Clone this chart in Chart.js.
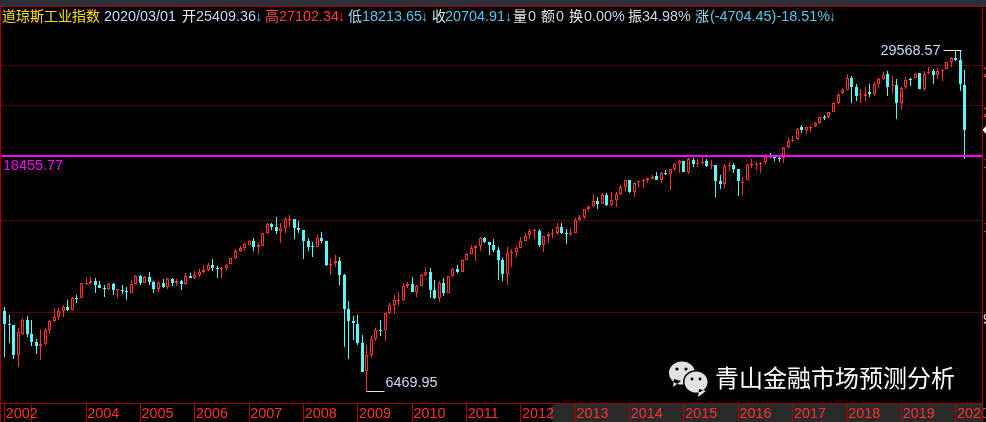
<!DOCTYPE html>
<html>
<head>
<meta charset="utf-8">
<style>
html,body{margin:0;padding:0;background:#000;width:986px;height:422px;overflow:hidden}
#wrap{position:relative;width:986px;height:422px;overflow:hidden}
canvas{position:absolute;left:0;top:0}
.h{position:absolute;top:8px;height:16px;line-height:16px;font-size:14.4px;font-family:"Liberation Sans","Noto Sans CJK SC",sans-serif;white-space:pre}
.h.cjk{font-size:14px}
#wm{position:absolute;left:715px;top:360px;font-size:24px;line-height:34px;color:#fff;font-family:"Noto Sans CJK SC",sans-serif;white-space:pre}
</style>
<script src="https://cdn.jsdelivr.net/npm/chart.js@4/dist/chart.umd.min.js"></script>
</head>
<body>
<div id="wrap">
<canvas id="c" width="986" height="422"></canvas>
<div id="wm">青山金融市场预测分析</div>
</div>
<script>
// Monthly candles, July 2002 to March 2020
const opens = [
9255,8733,8694,7616,8353,8890,8353,8060,7928,7989,
8503,8851,9011,9255,9408,9296,9821,9821,10438,10485,
10579,10378,10254,10209,10438,10186,10163,10105,10041,10453,
10817,10501,10755,10532,10222,10470,10286,10674,10485,10593,
10438,10832,10721,10852,11012,11110,11362,11211,11196,11196,
11412,11723,12093,12257,12439,12645,12329,12384,13104,13641,
13442,13239,13400,13886,13930,13382,13262,12627,12350,12329,
12799,12645,11402,11478,11566,10866,9338,8851,8759,8013,
7082,7606,8169,8516,8491,9173,9506,9720,9720,10332,
10438,10073,10360,10866,11012,10163,9808,10485,10041,10803,
11146,11012,11617,11933,12274,12367,12816,12572,12422,12147,
11617,10914,11986,12024,12257,12645,12971,13221,13221,12422,
12948,13063,13087,13442,13104,13063,13122,13868,14074,14560,
14780,15115,14940,15524,14827,15200,15593,16110,16590,15732,
16428,16545,16622,16695,16897,16622,17124,17070,17400,17826,
18040,17220,18146,17880,17905,18040,17720,17720,16523,16304,
17690,17720,17410,16465,16597,17720,17800,17880,17985,18450,
18415,18310,18285,19205,19812,19900,20995,20743,20960,21090,
21375,21970,21982,22477,23430,24430,24825,26120,25128,24247,
24170,24573,24355,25500,26041,26627,25318,25318,23430,25128,
26075,26157,26710,24905,26746,26950,26545,26950,27265,28130,
28597,28300,25409.36];
const highs = [
9408,9091,8720,8567,8960,9039,8890,8157,8529,8567,
8878,9380,9367,9493,9720,9839,9940,10470,10707,10769,
10707,10579,10392,10470,10470,10209,10392,10286,10626,10866,
10852,10817,11012,10579,10564,10660,10707,10707,10674,10626,
10947,10947,11046,11176,11347,11447,11655,11311,11246,11397,
11739,12185,12367,12516,12701,12816,12533,13122,13684,13684,
14055,13684,14055,14200,13949,13825,13280,12799,12608,13046,
13140,12645,11707,11880,11790,10914,9690,9051,9078,8316,
7953,8290,8604,8890,9187,9604,9940,10091,10501,10546,
10755,10392,10900,11261,11196,10626,10579,10707,10832,11226,
11362,11655,12003,12422,12422,12856,12856,12608,12742,12329,
11707,12312,12185,12350,12892,13087,13340,13360,13360,12910,
13163,13320,13684,13702,13340,13400,13990,14200,14600,14840,
15580,15380,15640,15662,15710,15732,16232,16597,16597,16472,
16523,16672,16747,16950,17200,17200,17330,17400,17880,18146,
18065,18285,18285,18229,18415,18229,18120,17747,16972,17826,
17960,17880,17434,16800,17800,18200,18000,18000,18639,18722,
18530,18415,19255,19990,20170,20900,21185,21050,21118,21530,
22000,22180,22510,23470,24430,24980,26627,26391,25430,24870,
25128,25430,25740,26190,26830,26950,26391,26000,25095,26240,
26157,26710,26746,26950,27435,27190,27350,27190,28130,28765,
29545,29568.57,27102.34];
const lows = [
7548,8013,7481,7220,8316,8242,7918,7640,7438,7950,
8353,8830,8890,9024,9267,9283,9604,9808,10392,10438,
10028,10240,9852,10177,9940,9808,9984,9720,10028,10438,
10392,10485,10392,10028,10060,10268,10222,10346,10346,10163,
10406,10721,10674,10783,10978,11061,11061,10721,10721,11046,
11397,11687,12040,12109,12406,12093,11933,12367,13063,13280,
13029,12533,13087,13442,12759,13087,11671,12109,11775,12296,
12516,11311,10866,11246,10392,7883,7471,8132,7953,7051,
6469.95,7505,8108,8279,8096,9132,9132,9464,9690,10254,
10060,9852,10346,10832,9808,9785,9634,9896,10028,10755,
10978,10998,11602,11917,11566,12109,12550,11880,12056,10626,
10593,10378,11246,11775,12240,12627,12742,12759,12312,12040,
12533,12816,12988,13046,12477,12930,13104,13805,13949,14454,
14710,14590,14920,14781,14781,14715,15544,15732,15662,15386,
16088,16017,16377,16672,16575,16377,16972,15873,17300,17124,
17210,17048,17615,17615,17747,17615,17434,15405,15945,16017,
17277,17150,15475,15524,16575,17536,17354,17100,17800,18310,
18065,17985,17880,19145,19690,19855,20468,20400,20590,21024,
21335,21689,21885,22460,23293,24355,24793,23365,23606,23397,
23640,24032,24170,25050,25890,24170,24355,21820,22678,24905,
25240,26120,24905,24683,26627,25465,26041,25840,27229,27510,
28250,24715,18213.65];
const closes = [
8733,8706,7606,8428,8890,8353,8060,7918,7978,8503,
8840,9011,9255,9408,9283,9808,9795,10470,10485,10579,
10378,10254,10222,10438,10163,10195,10118,10060,10438,10817,
10470,10755,10532,10222,10485,10300,10674,10485,10593,10453,
10803,10735,10866,11012,11110,11362,11211,11196,11211,11377,
11707,12093,12257,12477,12627,12329,12439,13087,13641,13460,
13221,13382,13930,13930,13400,13262,12645,12329,12312,12799,
12645,11362,11412,11550,10880,9338,8851,8772,8024,7072,
7606,8157,8491,8478,9160,9493,9720,9733,10332,10424,
10073,10332,10852,11012,10163,9795,10485,10028,10817,11161,
11012,11602,11933,12240,12367,12816,12589,12422,12147,11617,
10914,11970,12024,12240,12645,12948,13221,13262,12422,12910,
13046,13104,13442,13104,13063,13104,13886,14055,14560,14750,
15090,14940,15530,14847,15181,15593,16088,16575,15710,16399,
16500,16597,16725,16860,16597,17124,17070,17400,17800,18040,
17220,18200,17826,17905,18000,17690,17770,16545,16304,17668,
17747,17434,16523,16472,17747,17826,17826,17930,18415,18392,
18335,18200,19145,19776,19855,20810,20743,20995,21024,21375,
21950,21880,22445,23365,24280,24793,26120,25160,24170,24310,
24385,24385,25465,26041,26509,25160,25352,23430,25016,25923,
26000,26590,24940,26627,26865,26545,26950,27105,28055,28550,
28342,25500,20704.91];

// Category labels: one per candle, plus three empty slots right of the last candle
const firstYear = 2002, firstMonth = 7;
const categories = opens.map((_, i) => {
  const m = firstMonth - 1 + i;
  return (firstYear + Math.floor(m / 12)) + '-' + String(m % 12 + 1).padStart(2, '0');
}).concat(['', '', '']);
const unlabelledYears = ['2003'];

const gridValues = [27680, 23160, 18456, 13865, 9214];
const gridLabels = ['27680', '23160', '18456', '13865', '9214'];
const refLevel = 18455.77;
const refLabel = '18455.77';
const yMin = 6146, yMax = 35893;

const RED = '#ff3232', CYAN = '#54fcfc', FRAME = '#a80000', FONT = '"Liberation Sans",Arial,sans-serif';

const header = [
  ['道琼斯工业指数', 2, '#ffe000'], ['2020/03/01', 104, '#c8dcff'],
  ['开', 182, '#f0f0f0'], ['25409.36', 196, '#c8d4e8'], ['↓', 255, '#54c8f0'],
  ['高', 265, '#ff4a4a'], ['27102.34', 279, '#ff3c3c'], ['↓', 338, '#ff3c3c'],
  ['低', 348, '#a8dcf0'], ['18213.65', 362, '#54c8f0'], ['↓', 421, '#54c8f0'],
  ['收', 432, '#e0e8f0'], ['20704.91', 445, '#54c8f0'], ['↓', 505, '#54c8f0'],
  ['量', 513, '#e8e8e8'], ['0', 528, '#c8d4e8'],
  ['额', 541, '#e8e8e8'], ['0', 556, '#c8d4e8'],
  ['换', 569, '#e8e8e8'], ['0.00%', 584, '#c8d4e8'],
  ['振', 628, '#e8e8e8'], ['34.98%', 642, '#c8d4e8'],
  ['涨', 695, '#8ce0f8'], ['(-4704.45)-18.51%', 710, '#54c8f0'], ['↓', 829, '#54c8f0']
];
const wrap = document.getElementById('wrap');
header.forEach(([t, x, col]) => {
  const s = document.createElement('span');
  s.className = /[\u4e00-\u9fff]/.test(t) ? 'h cjk' : 'h';
  s.textContent = t; s.style.left = x + 'px'; s.style.color = col;
  wrap.appendChild(s);
});

const isUp = opens.map((o, i) => closes[i] >= o);
const candleColor = isUp.map(u => u ? RED : CYAN);
const wickData = highs.map((h, i) => [lows[i], h]);
const bodyData = opens.map((o, i) => [Math.min(o, closes[i]), Math.max(o, closes[i])]);

const framePlugin = {
  id: 'frame',
  beforeDraw(chart) {
    const c = chart.ctx, a = chart.chartArea;
    c.save();
    c.fillStyle = '#000'; c.fillRect(0, 0, 986, 422);
    c.fillStyle = '#2e3038'; c.fillRect(0, 0, 986, 6);
    c.fillStyle = '#2a2a2a';
    c.beginPath(); c.roundRect(550, a.bottom + 1, 432, 422 - a.bottom, [6, 0, 0, 6]); c.fill();
    c.restore();
  },
  afterDraw(chart) {
    const c = chart.ctx, a = chart.chartArea;
    c.save();
    c.fillStyle = FRAME;
    c.fillRect(0, 6, 986, 1);      // top rule
    c.fillRect(0, 6, 1, 416);      // left rule
    c.fillRect(982, 6, 1, 416);    // right rule
    c.fillRect(0, Math.round(a.bottom), 983, 1); // bottom rule
    c.restore();
  }
};

// Snap bars to whole pixels so the candles stay crisp
const snapPlugin = {
  id: 'snap',
  beforeDatasetsDraw(chart) {
    chart.getSortedVisibleDatasetMetas().forEach(m => m.data.forEach(el => {
      const top = Math.round(Math.min(el.y, el.base));
      let bottom = Math.round(Math.max(el.y, el.base));
      if (bottom <= top) bottom = top + 1;
      el.x = Math.floor(el.x) + 0.5;
      el.y = top; el.base = bottom; el.height = bottom - top;
    }));
  }
};

const notesPlugin = {
  id: 'notes',
  afterDatasetsDraw(chart) {
    const c = chart.ctx, X = chart.scales.x, Y = chart.scales.y;
    c.save();
    // reference level
    const ry = Y.getPixelForValue(refLevel);
    c.fillStyle = '#ff00ff';
    c.fillRect(0, Math.round(ry) - 1, 982, 2);
    c.font = '14.4px ' + FONT; c.textBaseline = 'middle'; c.textAlign = 'left';
    c.fillText(refLabel, 3, ry + 10);
    // high / low notes
    const hiI = highs.indexOf(Math.max(...highs)), loI = lows.indexOf(Math.min(...lows));
    const hx = Math.floor(X.getPixelForValue(hiI)) + 0.5, hy = Math.round(Y.getPixelForValue(highs[hiI]));
    const lx = Math.floor(X.getPixelForValue(loI)) + 0.5, ly = Math.round(Y.getPixelForValue(lows[loI]));
    c.fillStyle = '#e8e8f0';
    c.fillRect(hx - 17, hy, 18, 1);
    c.fillRect(lx, ly, 18, 1);
    c.fillStyle = '#c8d8f4';
    c.textAlign = 'right'; c.fillText(String(highs[hiI]), hx - 20, hy + 1);
    c.textAlign = 'left'; c.fillText(String(lows[loI]), lx + 19, ly - 8);
    // cut-off price labels right of the frame
    c.textBaseline = 'top'; c.textAlign = 'left';
    gridValues.forEach((v, i) => {
      c.fillStyle = i === gridValues.length - 1 ? '#d8e4ff' : RED;
      c.fillText(gridLabels[i], 983, Math.round(Y.getPixelForValue(v)) + 1);
    });
    // marker of the last close
    const my = Math.round(Y.getPixelForValue(closes[closes.length - 1]));
    c.fillStyle = '#fff';
    c.beginPath(); c.moveTo(982.5, my); c.lineTo(986, my - 4); c.lineTo(986, my + 4); c.closePath(); c.fill();
    // watermark logo
    const bubble = (x, y, rx, ry, tx, ty) => {
      c.fillStyle = '#000'; c.beginPath(); c.ellipse(x, y, rx + 1.5, ry + 1.5, 0, 0, 7); c.fill();
      c.fillStyle = '#e2e2e2'; c.beginPath(); c.ellipse(x, y, rx, ry, 0, 0, 7);
      c.moveTo(tx, ty); c.lineTo(tx + 8, ty - 6); c.lineTo(tx + 1, ty - 8); c.closePath(); c.fill();
    };
    bubble(682, 373, 13, 11.5, 673, 387);
    c.fillStyle = '#000';
    c.beginPath(); c.arc(677, 369, 1.6, 0, 7); c.arc(686, 369, 1.6, 0, 7); c.fill();
    bubble(696, 382, 11.5, 10.5, 698, 397);
    c.fillStyle = '#000';
    c.beginPath(); c.arc(692, 379, 1.4, 0, 7); c.arc(700, 379, 1.4, 0, 7); c.fill();
    c.restore();
  }
};

new Chart(document.getElementById('c'), {
  type: 'bar',
  data: {
    labels: categories,
    datasets: [
      { label: 'wick', data: wickData, order: 2, grouped: false, barThickness: 1,
        backgroundColor: candleColor, borderWidth: 0, inflateAmount: 0 },
      { label: 'body', data: bodyData, order: 1, grouped: false, barThickness: 3,
        backgroundColor: isUp.map(u => u ? '#000' : CYAN), borderColor: candleColor,
        borderWidth: 1, borderSkipped: false, inflateAmount: 0 }
    ]
  },
  options: {
    responsive: false,
    animation: false,
    events: [],
    layout: { padding: { left: 2.235, right: 0, top: 7, bottom: 0 } },
    plugins: { legend: { display: false }, tooltip: { enabled: false }, title: { display: false } },
    scales: {
      x: {
        type: 'category',
        position: 'bottom',
        offset: true,
        afterFit: s => { s.height = 19; },
        afterBuildTicks: s => {
          s.ticks = s.ticks.filter(t => t.value === 0 || categories[t.value].endsWith('-01'));
        },
        border: { display: false },
        grid: { offset: false, drawOnChartArea: false, drawTicks: true, tickLength: 19, color: FRAME, tickColor: FRAME, lineWidth: 1 },
        ticks: {
          autoSkip: false, maxRotation: 0, minRotation: 0, align: 'start', padding: -17,
          color: RED, font: { family: FONT, size: 14.4 },
          callback: v => {
            const y = categories[v].slice(0, 4);
            return unlabelledYears.includes(y) ? '' : '\u200a' + y;
          }
        }
      },
      y: {
        type: 'logarithmic',
        position: 'right',
        min: yMin, max: yMax,
        afterFit: s => { s.width = 5.3; },
        afterBuildTicks: s => { s.ticks = gridValues.map(value => ({ value })); },
        border: { display: false, dash: [1, 1] },
        grid: { color: '#b00000', lineWidth: 1, drawTicks: false },
        ticks: { display: false }
      }
    }
  },
  plugins: [framePlugin, snapPlugin, notesPlugin]
});
</script>
</body>
</html>
